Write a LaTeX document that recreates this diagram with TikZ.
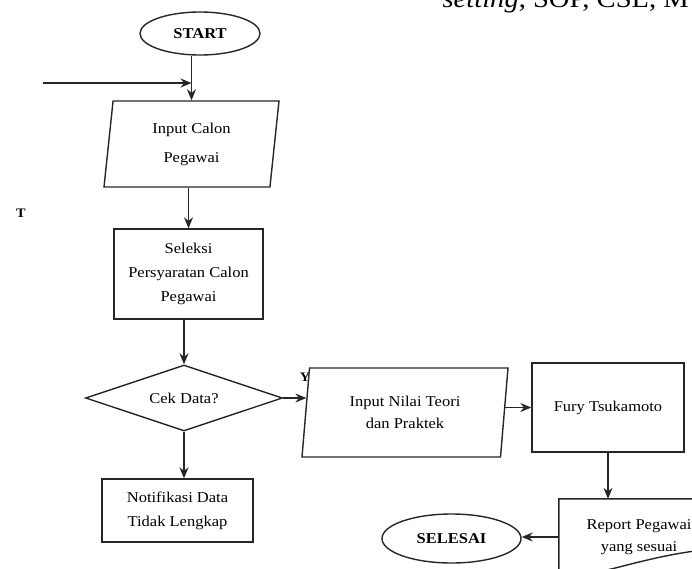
\documentclass[tikz,border=0pt]{standalone}
\usepackage{fontspec}
\setmainfont[FakeStretch=1.1]{Liberation Serif}
\usepackage{tikz}
\usetikzlibrary{shapes.geometric, arrows.meta, positioning, calc}
\tikzset{
  startstop/.style={ellipse, draw=black!85, line width=1.4pt, inner sep=0pt, font=\fontsize{15}{18}\selectfont\bfseries},
  io/.style={trapezium, trapezium stretches body, draw=black!85, line width=1.4pt, inner sep=0pt, align=center},
  process/.style={rectangle, draw=black!85, line width=1.4pt, inner sep=0pt, align=center},
  decision/.style={diamond, aspect=3, draw=black!85, line width=1.4pt, inner sep=0pt},
  flag/.style={inner sep=0pt, font=\fontsize{13}{15}\selectfont\bfseries},
  arrow/.style={line width=1.4pt, draw=black!85, -{Stealth[length=11pt,width=9pt]}}
}

\begin{document}
\begin{tikzpicture}[x=1pt, y=-1pt, font=\fontsize{15}{24}\selectfont]
        \useasboundingbox (0,0) rectangle (692,568);
        \node (heading) [anchor=base west, font=\fontsize{26}{30}\selectfont] at (439,7.5) {\textit{setting}, SOP, CSL, M};

        \node (start) [startstop, minimum width=120, minimum height=43] at (200,33.5) {START};
        \coordinate (entry) at (43,83);
        \node (inp1) [io, trapezium left angle=78, trapezium right angle=102, minimum width=175, minimum height=86, font=\fontsize{15}{29}\selectfont] at (191.5,144) {Input Calon\\Pegawai};
        \node (no) [flag] at (21,213) {T};
        \node (sel) [process, minimum width=149, minimum height=90] at (188.5,274) {Seleksi\\Persyaratan Calon\\Pegawai};
        \node (cek) [decision, minimum width=197, minimum height=66] at (184,398) {Cek Data?};
        \node (notif) [process, minimum width=151, minimum height=63] at (177.5,510.5) {Notifikasi Data\\Tidak Lengkap};
        \node (yes) [flag] at (305,377) {Y};
        \node (inp2) [io, trapezium left angle=77, trapezium right angle=103, minimum width=206, minimum height=89, font=\fontsize{15}{22}\selectfont] at (405,412.5) {Input Nilai Teori\\dan Praktek};
        \node (fury) [process, minimum width=152, minimum height=89] at (608,407.5) {Fury Tsukamoto};
        \node (report) [minimum width=160, minimum height=76, inner sep=0pt, align=center, font=\fontsize{15}{22}\selectfont] at (639,537) {Report Pegawai\\yang sesuai};
        \node (selesai) [startstop, minimum width=139, minimum height=49] at (451.5,538.5) {SELESAI};

        % document shape of the report
        \draw [line width=1.4pt, draw=black!85] ($(report.south east)+(0,-27)$) -- (report.north east) -- (report.north west) -- (report.south west)
            .. controls (595,580) and (640,555) .. ($(report.south east)+(0,-27)$);

        \draw [arrow] (inp1.north |- start.south) -- (inp1.north);
        \draw [arrow] (entry) -- (entry -| inp1.north);
        \draw [arrow] (sel.north |- inp1.south) -- (sel.north);
        \draw [arrow] (cek.north |- sel.south) -- (cek.north);
        \draw [arrow] (cek.south) -- (cek.south |- notif.north);
        \draw [arrow] (cek.east) -- (cek.east -| inp2.171);
        \draw [arrow] (inp2.east |- fury.west) -- (fury.west);
        \draw [arrow] (fury.south) -- (fury.south |- report.north);
        \draw [arrow] (report.west) -- (report.west -| selesai.east);
    \end{tikzpicture}
\end{document}
